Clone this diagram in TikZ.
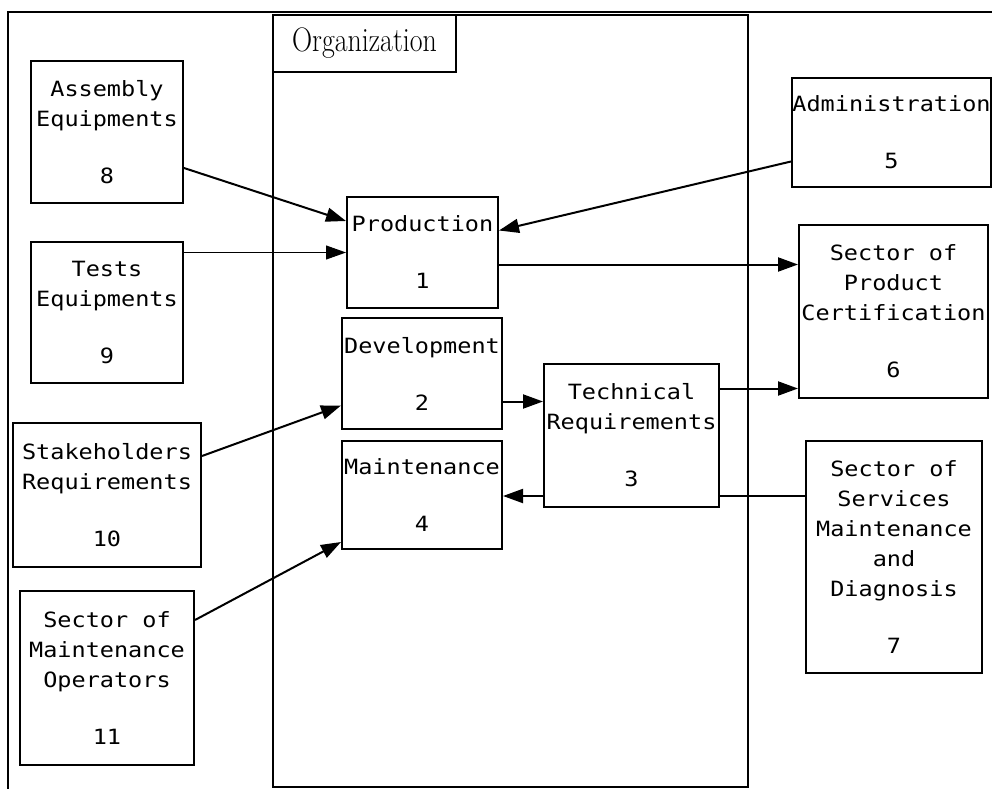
\documentclass[tikz,border=0pt]{standalone}
\usepackage{fontspec}
\newfontfamily\plotfont[FakeStretch=1.12]{DejaVu Sans Mono}
\newfontfamily\orgfont[FakeStretch=0.82]{Latin Modern Roman}
\usetikzlibrary{arrows.meta,calc}

\tikzset{
  block/.style={draw, line width=2pt, inner sep=0pt, align=center,
    font=\plotfont\fontsize{21}{30}\selectfont},
  flow/.style={-{Triangle[length=20pt,width=14pt]}, line width=2pt},
  thinflow/.style={flow, line width=1pt},
}

\begin{document}
\begin{tikzpicture}[x=1pt,y=-1pt]
    \useasboundingbox (0,0) rectangle (992,789);

    % Marco
    \draw[line width=2pt] (992,12) -- (8,12) -- (8,789);

    % Organizacion
    \draw[line width=2pt] (273,15) rectangle (748,787);
    \node[draw, line width=2pt, inner sep=0pt, minimum width=183pt, minimum height=57pt,
      font=\orgfont\fontsize{34}{36}\selectfont] (org) at (364.5,43.5) {Organization};

    % Bloques internos
    \node[block, minimum width=151pt, minimum height=111pt] (n1) at (422.5,252.5) {Production\\[27pt]1};
    \node[block, minimum width=160pt, minimum height=111pt] (n2) at (422,373.5) {Development\\[27pt]2};
    \node[block, minimum width=175pt, minimum height=143pt] (n3) at (631.5,435.5) {Technical\\Requirements\\[27pt]3};
    \node[block, minimum width=160pt, minimum height=108pt] (n4) at (422,495) {Maintenance\\[27pt]4};

    % Bloques externos
    \node[block, minimum width=199pt, minimum height=109pt] (n5) at (891.5,132.5) {Administration\\[27pt]5};
    \node[block, minimum width=189pt, minimum height=173pt] (n6) at (893.5,311.5) {Sector of\\Product\\Certification\\[27pt]6};
    \node[block, minimum width=176pt, minimum height=232pt] (n7) at (894,557) {Sector of\\Services\\Maintenance\\and\\Diagnosis\\[27pt]7};
    \node[block, minimum width=152pt, minimum height=142pt] (n8) at (107,132) {Assembly\\Equipments\\[27pt]8};
    \node[block, minimum width=152pt, minimum height=141pt] (n9) at (107,312.5) {Tests\\Equipments\\[27pt]9};
    \node[block, minimum width=188pt, minimum height=144pt] (n10) at (107,495) {Stakeholders\\Requirements\\[27pt]10};
    \node[block, minimum width=174pt, minimum height=174pt] (n11) at (107,678) {Sector of\\Maintenance\\Operators\\[27pt]11};

    % Flechas
    \draw[flow] ($(n8.east)+(0,36)$) -- ($(n1.north west)+(0,25)$);
    \draw[thinflow] (n9.east |- n1.west) -- (n1.west);
    \draw[flow] ($(n5.west)+(0,29)$) -- ($(n1.east)+(0,-22)$);
    \coordinate (a16) at ($(n1.east)+(0,12)$);
    \draw[flow] (a16) -- (a16 -| n6.west);
    \draw[flow] ($(n10.east)+(0,-39)$) -- ($(n2.west)+(0,32)$);
    \coordinate (a23) at ($(n2.east)+(0,28)$);
    \draw[flow] (a23) -- (a23 -| n3.west);
    \coordinate (a36) at ($(n3.east)+(0,-47)$);
    \draw[flow] (a36) -- (a36 -| n6.west);
    \coordinate (a73) at ($(n7.west)+(0,-61)$);
    \draw[line width=2pt] (a73) -- (a73 -| n3.east);
    \draw[flow] (a73 -| n3.west) -- (a73 -| n4.east);
    \draw[flow] ($(n11.east)+(0,-58)$) -- ($(n4.west)+(0,47)$);

\end{tikzpicture}
\end{document}
